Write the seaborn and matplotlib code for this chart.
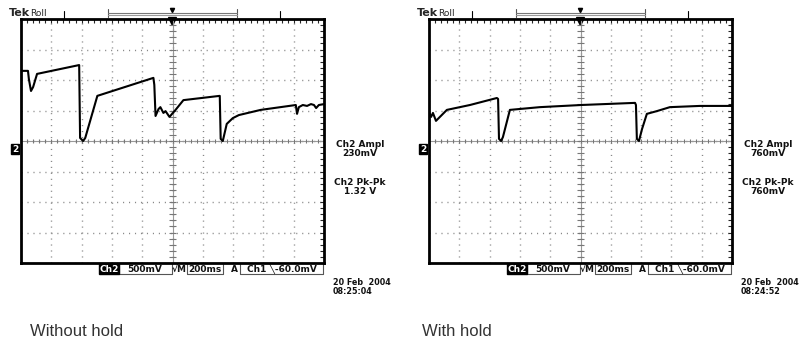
import numpy as np
import pandas as pd
import matplotlib.pyplot as plt
import seaborn as sns

# trace points, in graticule divisions
# (x: 0..10 divisions, y: -4..4 divisions, ch2 ground at 0)
without_x = [0, 0.23, 0.26, 0.33, 0.40, 0.53, 1.92, 1.95, 2.05, 2.12, 2.52,
             4.37, 4.40, 4.44, 4.54, 4.60, 4.70, 4.77, 4.90, 5.10, 5.36,
             6.56, 6.59, 6.66, 6.79, 6.99, 7.19, 7.91, 9.07, 9.11, 9.17,
             9.30, 9.44, 9.57, 9.67, 9.74, 9.83, 10]
without_y = [2.30, 2.30, 2.03, 1.64, 1.77, 2.20, 2.49, 0.10, 0.0, 0.10, 1.48,
             2.07, 1.84, 0.82, 1.05, 1.11, 0.92, 0.98, 0.79, 1.02, 1.34,
             1.48, 0.07, 0.0, 0.56, 0.75, 0.85, 1.02, 1.18, 0.89, 1.11,
             1.18, 1.15, 1.21, 1.18, 1.08, 1.18, 1.21]

with_x = [0, 0.07, 0.13, 0.23, 0.59, 1.35, 2.24, 2.28, 2.31, 2.38, 2.44,
          2.67, 3.66, 5.02, 6.80, 6.83, 6.86, 6.93, 7.03, 7.19, 7.52,
          7.95, 8.94, 10]
with_y = [0.95, 0.79, 0.92, 0.66, 1.02, 1.18, 1.41, 1.38, 0.07, 0.0, 0.13,
          1.02, 1.11, 1.18, 1.25, 1.18, 0.07, 0.0, 0.39, 0.89, 0.98,
          1.11, 1.15, 1.15]

captions = ['Without hold', 'With hold']
ampl = ['230mV', '760mV']
pkpk = ['1.32 V', '760mV']
stamps = ['20 Feb  2004\n08:25:04', '20 Feb  2004\n08:24:52']

sns.set_style('white')
plt.rcParams['font.family'] = ['DejaVu Sans']

fig = plt.figure(figsize=(8, 3.4), dpi=100)

# overlay in pixel coordinates for the scope's screen furniture
ov = fig.add_axes([0, 0, 1, 1])
ov.set_xlim(0, 800)
ov.set_ylim(340, 0)
ov.axis('off')

scr = dict(fontsize=6.5, fontweight='bold', color='#111')


def scope(off, xs, ys, amp, pk, stamp, caption, cap_x):
    ax = fig.add_axes([(21 + off) / 800, 77 / 340, 303 / 800, 244 / 340])
    ax.set_facecolor('none')
    df = pd.DataFrame({'t': xs, 'v': ys})
    sns.lineplot(data=df, x='t', y='v', ax=ax, color='black', lw=1.5,
                 sort=False, estimator=None, zorder=5)
    ax.set_xlim(0, 10)
    ax.set_ylim(-4, 4)
    ax.set_xticks(range(11))
    ax.set_yticks(range(-4, 5))
    ax.set_xticks(np.arange(0, 10.01, 0.2), minor=True)
    ax.set_yticks(np.arange(-4, 4.01, 0.2), minor=True)
    ax.grid(True, which='major', ls=(0, (0.8, 3.5)), color='#888', lw=1)
    ax.tick_params(which='both', direction='in', length=3, width=0.8,
                   top=True, right=True, labelbottom=False, labelleft=False)
    ax.set_xlabel('')
    ax.set_ylabel('')
    for s in ax.spines.values():
        s.set_linewidth(2)
        s.set_color('black')
    # centre crosshair with its own tick marks
    ax.axhline(0, color='#999', lw=0.8)
    ax.axvline(5, color='#999', lw=0.8)
    ax.vlines(np.arange(0.2, 10, 0.2), -0.08, 0.08, color='#777', lw=0.8)
    ax.hlines(np.arange(-3.8, 4, 0.2), 4.9, 5.1, color='#777', lw=0.8)

    # header
    ov.text(9 + off, 13, 'Tek', fontsize=8, fontweight='bold', va='center')
    ov.text(30 + off, 13, 'Roll', fontsize=6.5, va='center')
    for xv in (64, 280):
        ov.plot([xv + off, xv + off], [11, 19], color='black', lw=0.8)
    ov.plot([108 + off, 108 + off], [9, 17], color='#555', lw=0.8)
    ov.plot([237 + off, 237 + off], [9, 17], color='#555', lw=0.8)
    ov.plot([108 + off, 237 + off], [13, 13], color='#777', lw=0.8)
    ov.plot([108 + off, 237 + off], [15, 15], color='#999', lw=0.8)
    ov.plot(172 + off, 10, marker='v', ms=3, color='black')
    ov.plot(172 + off, 21, marker='v', ms=6, color='black', zorder=10)

    # ground marker
    ov.text(15 + off, 149, '2', color='white', fontsize=6.5, fontweight='bold',
            ha='center', va='center',
            bbox=dict(boxstyle='square,pad=0.1', fc='black', ec='black'))

    # bottom status bar
    ov.text(109 + off, 269, 'Ch2', color='white', ha='center', va='center',
            bbox=dict(boxstyle='square,pad=0.05', fc='black', ec='black'),
            fontsize=6.5, fontweight='bold')
    for x0, x1 in ((119, 172), (187, 223), (240, 323)):
        ov.plot([x0 + off, x0 + off, x1 + off, x1 + off], [263, 274, 274, 263],
                color='#555', lw=0.8)
    ov.text(145 + off, 269, '500mV', ha='center', va='center', **scr)
    ov.text(179 + off, 269, '\u221aM', ha='center', va='center', **scr)
    ov.text(205 + off, 269, '200ms', ha='center', va='center', **scr)
    ov.text(234 + off, 269, 'A', ha='center', va='center', **scr)
    ov.text(282 + off, 269, 'Ch1 \u2572-60.0mV', ha='center', va='center', **scr)

    # measurements and time stamp
    ov.text(360 + off, 149, 'Ch2 Ampl\n' + amp, ha='center', va='center',
            linespacing=1.0, **scr)
    ov.text(360 + off, 187, 'Ch2 Pk-Pk\n' + pk, ha='center', va='center',
            linespacing=1.0, **scr)
    ov.text(333 + off, 287, stamp, ha='left', va='center', linespacing=1.05,
            fontsize=5.8, fontweight='bold', color='#111')

    ov.text(cap_x, 331, caption, family='Liberation Sans', fontsize=12,
            color='#333', va='center')


scope(0, without_x, without_y, ampl[0], pkpk[0], stamps[0], captions[0], 30)
scope(408, with_x, with_y, ampl[1], pkpk[1], stamps[1], captions[1], 422)

fig.savefig('out.png', dpi=100)
